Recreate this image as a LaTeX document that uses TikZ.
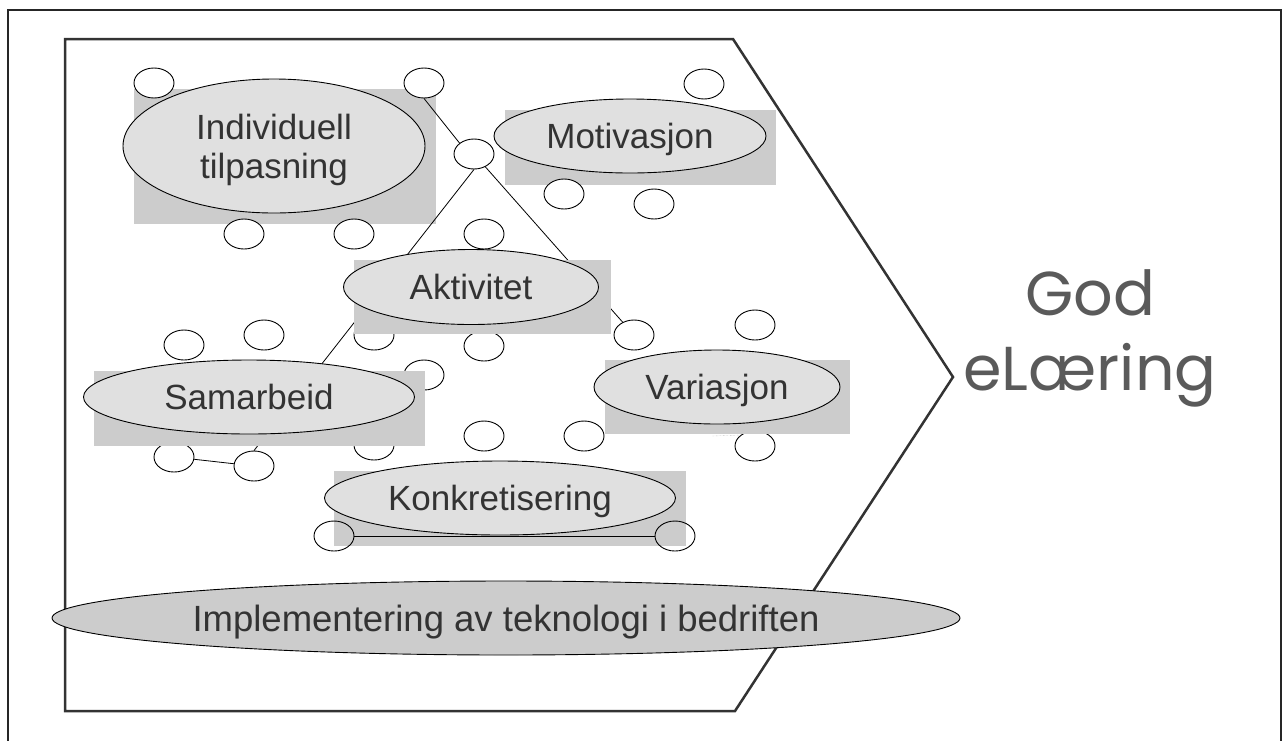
\documentclass[tikz,border=0pt]{standalone}
\usepackage{fontspec}
\setmainfont{Liberation Sans}
\newfontfamily\handfont{Poppins}
\usetikzlibrary{positioning, shapes.geometric}

\definecolor{inkgray}{HTML}{333333}
\definecolor{bubblefill}{HTML}{E0E0E0}
\definecolor{shadefill}{HTML}{CCCCCC}
\definecolor{goalgray}{HTML}{5A5A5A}

\begin{document}
\begin{tikzpicture}[
        x=1pt, y=-1pt,
        bubble/.style={draw, ellipse, fill=bubblefill, line width=0.9pt, inner sep=0pt, align=center,
            text=inkgray, text depth=0pt, font=\fontsize{35}{39}\selectfont},
        shadebox/.style={fill=shadefill, inner sep=0pt},
        knot/.style={draw, ellipse, fill=white, line width=0.9pt, minimum width=40pt, minimum height=30pt, inner sep=0pt},
        frameline/.style={line width=2.5pt, draw=inkgray},
        link/.style={line width=0.8pt}
    ]
    \useasboundingbox (0,0) rectangle (1282,740);

    % outer frame and the arrow shaped panel
    \draw[line width=2pt, draw=black!85] (8,760) -- (8,10) -- (1281,10) -- (1281,760);
    \draw[frameline] (65,39) -- (733,39) -- (953,377) -- (735,711) -- (65,711) -- cycle;

    % upper groups
    \node[shadebox, minimum width=302pt, minimum height=135pt] (indshade) at (285,156.5) {};
    \node[bubble, minimum width=302pt, minimum height=134pt] (ind) at (274,146) {Individuell\\tilpasning};
    \node[shadebox, minimum width=271pt, minimum height=75pt] (motshade) at (640.5,147.5) {};
    \node[bubble, minimum width=272pt, minimum height=74pt] (mot) at (630,136) {Motivasjon};

    % small circles
    \node[knot] (c1) at (154,83) {};
    \node[knot] (c2) at (424,83) {};
    \node[knot] (c3) at (474,154) {};
    \node[knot] (c4) at (244,234) {};
    \node[knot] (c5) at (354,234) {};
    \node[knot] (c6) at (484,234) {};
    \node[knot] (c7) at (704,84) {};
    \node[knot] (c8) at (564,194) {};
    \node[knot] (c9) at (654,204) {};
    \node[knot] (c10) at (184,345) {};
    \node[knot] (c11) at (264,335) {};
    \node[knot] (c12) at (374,335) {};
    \node[knot] (c13) at (424,375) {};
    \node[knot] (c14) at (484,346) {};
    \node[knot] (c15) at (174,457) {};
    \node[knot] (c16) at (254,466) {};
    \node[knot] (c17) at (374,445) {};
    \node[knot] (c18) at (484,436) {};
    \node[knot] (c19) at (584,436) {};
    \node[knot] (c20) at (634,335) {};
    \node[knot] (c21) at (755,325) {};
    \node[knot] (c22) at (755,446) {};
    \coordinate (vtail) at (712,436);

    \draw[link] (c2.south) -- (c3.north west);
    \draw[link] (c3.south) -- (c16.north);
    \draw[link] (c3) -- (c20);
    \draw[link] (c15) -- (c16);
    \draw[densely dotted, gray!70] (vtail) -- (c22.north west);

    % middle and lower groups
    \node[shadebox, minimum width=257pt, minimum height=74pt] (aktshade) at (482.5,297) {};
    \node[bubble, minimum width=255pt, minimum height=75pt] (akt) at (471,287) {Aktivitet};
    \node[shadebox, minimum width=331pt, minimum height=75pt] (samshade) at (259.5,408.5) {};
    \node[bubble, minimum width=331pt, minimum height=74pt] (sam) at (249,397) {Samarbeid};
    \node[shadebox, minimum width=245pt, minimum height=74pt] (varshade) at (727.5,397) {};
    \node[bubble, minimum width=246pt, minimum height=74pt] (var) at (717,387) {Variasjon};
    \node[shadebox, minimum width=352pt, minimum height=75pt] (konshade) at (510,508.5) {};
    \node[bubble, minimum width=351pt, minimum height=74pt] (kon) at (500,498) {Konkretisering};

    \node[knot, fill=none] (k1) at (334,536) {};
    \node[knot, fill=none] (k2) at (675,536) {};
    \draw[link] (k1) -- (k2);

    \node[bubble, fill=shadefill, minimum width=908pt, minimum height=74pt, font=\fontsize{36.5}{40}\selectfont] (impl) at (506,618)
        {Implementering av teknologi i bedriften};

    \node[align=center, text=goalgray, text depth=0pt, font=\handfont\fontsize{62}{75}\selectfont] (goal) at (1090,330)
        {God\\eLæring};

\end{tikzpicture}
\end{document}
